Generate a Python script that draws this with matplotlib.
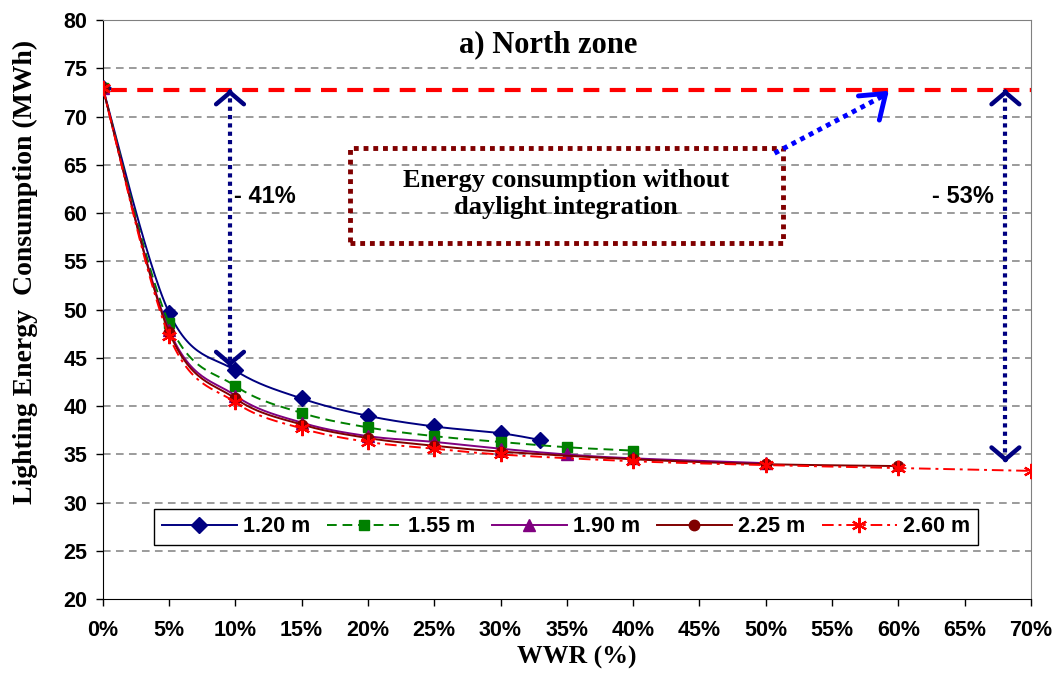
import numpy as np
import matplotlib
matplotlib.use("Agg")
import matplotlib.pyplot as plt
from matplotlib.patches import Rectangle
from matplotlib.ticker import FuncFormatter, MultipleLocator

# ---------------- data ----------------
wwr_120 = [0, 5, 10, 15, 20, 25, 30, 33]
cons_120 = [73.0, 49.7, 43.7, 40.8, 39.0, 37.9, 37.2, 36.5]
wwr_155 = [0, 5, 10, 15, 20, 25, 30, 35, 40]
cons_155 = [73.0, 48.6, 42.1, 39.3, 37.8, 36.9, 36.3, 35.75, 35.4]
wwr_190 = [0, 5, 10, 15, 20, 25, 30, 35, 40, 50]
cons_190 = [73.0, 47.9, 41.1, 38.3, 36.9, 36.3, 35.6, 35.0, 34.6, 34.1]
wwr_225 = [0, 5, 10, 15, 20, 25, 30, 40, 50, 60]
cons_225 = [73.0, 47.7, 40.8, 38.1, 36.7, 35.9, 35.3, 34.5, 34.0, 33.8]
wwr_260 = [0, 5, 10, 15, 20, 25, 30, 40, 50, 60, 70]
cons_260 = [73.0, 47.3, 40.4, 37.7, 36.3, 35.6, 35.0, 34.3, 33.9, 33.6, 33.3]
labels = ["1.20 m", "1.55 m", "1.90 m", "2.25 m", "2.60 m"]
baseline = 72.8
reduction_labels = ["- 41%", "- 53%"]
title = "a) North zone"
box_text = "Energy consumption without\ndaylight integration"

SERIF = ["Liberation Serif", "DejaVu Serif"]
SANS = ["Liberation Sans", "DejaVu Sans"]


def smooth(x, y, n=30):
    """Excel-like smoothed line (cubic Bezier, Catmull-Rom tangents)."""
    P = np.column_stack([np.asarray(x, float), np.asarray(y, float)])
    Pm = np.vstack([P[0], P, P[-1]])
    t = np.linspace(0, 1, n + 1)[1:][:, None]
    out = [P[:1]]
    for i in range(len(P) - 1):
        p0, p3 = P[i], P[i + 1]
        c1 = p0 + (Pm[i + 2] - Pm[i]) / 6.0
        c2 = p3 - (Pm[i + 3] - Pm[i + 1]) / 6.0
        seg = ((1 - t) ** 3) * p0 + 3 * ((1 - t) ** 2) * t * c1 + 3 * (1 - t) * t ** 2 * c2 + t ** 3 * p3
        out.append(seg)
    pts = np.vstack(out)
    return pts[:, 0], pts[:, 1], [k * n for k in range(len(P))]


fig = plt.figure(figsize=(10.63, 6.73), dpi=100)
ax = fig.add_axes([0.0966, 0.1095, 0.8733, 0.8608])

series = [
    (wwr_120, cons_120, dict(color="#000080", ls="-", marker="D", ms=8, mfc="#000080", mec="#000080")),
    (wwr_155, cons_155, dict(color="#008000", ls=(0, (5, 3)), marker="s", ms=7.5, mfc="#008000", mec="#008000")),
    (wwr_190, cons_190, dict(color="#800080", ls="-", marker="^", ms=8.5, mfc="#800080", mec="#800080")),
    (wwr_225, cons_225, dict(color="#800000", ls="-", marker="o", ms=7.5, mfc="#800000", mec="#800000")),
    (wwr_260, cons_260, dict(color="#FF0000", ls=(0, (6, 2.5, 1.5, 2.5)), marker=(6, 2, 0), ms=11, mfc="#FF0000",
                             mec="#FF0000", mew=1.6)),
]

handles = []
for (xv, yv, st), lab in zip(series, labels):
    sx, sy, idx = smooth(xv, yv)
    h, = ax.plot(sx, sy, lw=1.4, markevery=idx, label=lab, zorder=3, **st)
    handles.append(h)

# baseline (no daylight)
ax.plot([0.6, 70], [baseline, baseline], color="#FF0000", lw=3, ls=(0, (3.8, 2.5)), zorder=4)

# vertical reduction arrows
navy = "#000080"
for xa, ybot in [(9.6, 44.1), (68.07, 34.2)]:
    ax.plot([xa, xa], [baseline, ybot], color=navy, lw=3, ls=(0, (1, 1)), zorder=5)
    for ytip, ydir in [(baseline, 1), (ybot, -1)]:
        ax.annotate("", xy=(xa, ytip), xytext=(xa, ytip - ydir * 0.3),
                    arrowprops=dict(arrowstyle="->,head_length=0.85,head_width=1.0", color=navy, lw=3.2,
                                    shrinkA=0, shrinkB=0, mutation_scale=10), zorder=6)

ax.text(12.2, 61.7, reduction_labels[0], ha="center", va="center", fontsize=17, fontweight="bold", family=SANS)
ax.text(64.9, 61.7, reduction_labels[1], ha="center", va="center", fontsize=17, fontweight="bold", family=SANS)

# box
ax.add_patch(Rectangle((18.64, 56.92), 51.27 - 18.64, 66.71 - 56.92, fill=False, ec="#800000", lw=3.5,
                       ls=(0, (1, 1)), zorder=5))
ax.text((18.64 + 51.27) / 2, 62.0, box_text, ha="center", va="center", fontsize=19, fontweight="bold",
        family=SERIF, linespacing=1.2, zorder=6)

# blue dotted arrow
ax.plot([50.66, 58.8], [66.2, 72.1], color="#0000FF", lw=3.5, ls=(0, (1, 1)), zorder=5)
ax.annotate("", xy=(59.28, 72.67), xytext=(58.8, 72.1),
            arrowprops=dict(arrowstyle="->,head_length=1.6,head_width=1.15", color="#0000FF", lw=3.5,
                            shrinkA=0, shrinkB=0, mutation_scale=10), zorder=6)

ax.text(0.48, 0.957, title, transform=ax.transAxes, ha="center", va="center", fontsize=22, fontweight="bold",
        family=SERIF)

# axes styling
ax.set_xlim(0, 70)
ax.set_ylim(20, 80)
ax.xaxis.set_major_locator(MultipleLocator(5))
ax.yaxis.set_major_locator(MultipleLocator(5))
ax.xaxis.set_major_formatter(FuncFormatter(lambda v, p: f"{v:.0f}%"))
ax.yaxis.set_major_formatter(FuncFormatter(lambda v, p: f"{v:.0f}"))
ax.tick_params(axis="both", direction="out", length=5, width=1, colors="black")
ax.tick_params(axis="x", pad=10)
ax.tick_params(axis="y", pad=6)
for lab in ax.get_xticklabels() + ax.get_yticklabels():
    lab.set_fontfamily(SANS)
    lab.set_fontweight("bold")
    lab.set_fontsize(15.5)

for y in range(25, 80, 5):
    ax.axhline(y, color="#808080", lw=1.1, ls=(0, (5, 3.5)), zorder=1)
ax.spines["top"].set_color("#808080")
ax.spines["right"].set_color("#808080")
ax.spines["left"].set_color("black")
ax.spines["bottom"].set_color("black")

ax.set_xlabel("WWR (%)", fontsize=18.5, fontweight="bold", family=SERIF)
ax.xaxis.set_label_coords(0.511, -0.08)
ax.set_ylabel("Lighting Energy  Consumption (MWh)", fontsize=20, fontweight="bold", family=SERIF)
ax.yaxis.set_label_coords(-0.07, 0.565)

leg = ax.legend(handles=handles, loc="lower left", bbox_to_anchor=(0.0553, 0.0937, 0.8876, 0.0608),
                mode="expand", ncol=5, numpoints=1, frameon=True, fancybox=False, edgecolor="black",
                framealpha=1, borderpad=0.35, borderaxespad=0, handlelength=3.5, handletextpad=0.3,
                columnspacing=0.8, prop=dict(family=SANS, weight="bold", size=15.5))
leg.get_frame().set_linewidth(1.0)
leg.set_zorder(7)

fig.savefig("out.png", dpi=100)
